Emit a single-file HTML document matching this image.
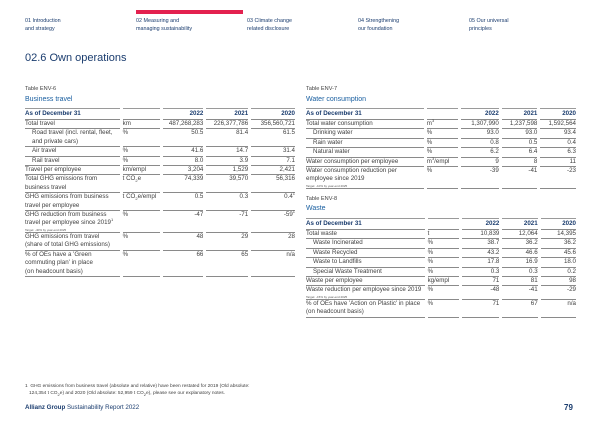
<!DOCTYPE html>
<html><head><meta charset="utf-8"><style>
*{margin:0;padding:0;box-sizing:border-box}
body{width:600px;height:424px;background:#fff;font-family:"Liberation Sans",sans-serif;color:#414141;position:relative;overflow:hidden}
.a{position:absolute;white-space:nowrap}
.nav{font-size:5.4px;line-height:8px;color:#1a3c6e}
table{position:absolute;border-collapse:separate;border-spacing:3px 0;font-size:6.2px;line-height:8.4px}
td,th{border-bottom:0.8px solid #8a8a8a;vertical-align:top;padding:0;font-weight:normal}
th{border-top:1.6px solid #9a9a9a;color:#1a3c6e;font-weight:bold;line-height:10px}
td.n,th.n{text-align:right}
.i{padding-left:7px}
.t{font-size:3px;line-height:4px;display:block;color:#555}
sup{font-size:4px;line-height:0}
sub{font-size:4px;line-height:0}
</style></head><body>
<div class="a" style="left:136px;top:10px;width:107px;height:3.5px;background:#e3214f"></div>
<div class="a nav" style="left:25px;top:17px">01 Introduction<br>and strategy</div>
<div class="a nav" style="left:136px;top:17px">02 Measuring and<br>managing sustainability</div>
<div class="a nav" style="left:247px;top:17px">03 Climate change<br>related disclosure</div>
<div class="a nav" style="left:358px;top:17px">04 Strengthening<br>our foundation</div>
<div class="a nav" style="left:469px;top:17px">05 Our universal<br>principles</div>
<div class="a" style="left:25px;top:52px;font-size:11px;color:#1a3c6e">02.6 Own operations</div>

<div class="a" style="left:25px;top:86px;font-size:5.6px">Table ENV-6</div>
<div class="a" style="left:25px;top:96px;font-size:7px;color:#1a5fa0">Business travel</div>
<table style="left:22px;top:108px;width:276px">
<colgroup><col style="width:96px"><col style="width:38px"><col style="width:40px"><col style="width:42px"><col style="width:44px"></colgroup>
<tr><th style="text-align:left">As of December 31</th><th></th><th class="n">2022</th><th class="n">2021</th><th class="n">2020</th></tr>
<tr><td>Total travel</td><td>km</td><td class="n">487,268,283</td><td class="n">226,377,786</td><td class="n">356,560,721</td></tr>
<tr><td class="i">Road travel (incl. rental, fleet,<br>and private cars)</td><td>%</td><td class="n">50.5</td><td class="n">81.4</td><td class="n">61.5</td></tr>
<tr><td class="i">Air travel</td><td>%</td><td class="n">41.6</td><td class="n">14.7</td><td class="n">31.4</td></tr>
<tr><td class="i">Rail travel</td><td>%</td><td class="n">8.0</td><td class="n">3.9</td><td class="n">7.1</td></tr>
<tr><td>Travel per employee</td><td>km/empl</td><td class="n">3,204</td><td class="n">1,529</td><td class="n">2,421</td></tr>
<tr><td>Total GHG emissions from<br>business travel</td><td>t CO<sub>2</sub>e</td><td class="n">74,339</td><td class="n">39,570</td><td class="n">56,316</td></tr>
<tr><td>GHG emissions from business<br>travel per employee</td><td>t CO<sub>2</sub>e/empl</td><td class="n">0.5</td><td class="n">0.3</td><td class="n">0.4<sup>1</sup></td></tr>
<tr><td>GHG reduction from business<br>travel per employee since 2019<sup>1</sup><span class="t">Target: -40% by year-end 2025</span></td><td>%</td><td class="n">-47</td><td class="n">-71</td><td class="n">-59<sup>1</sup></td></tr>
<tr><td>GHG emissions from travel<br>(share of total GHG emissions)</td><td>%</td><td class="n">48</td><td class="n">29</td><td class="n">28</td></tr>
<tr><td>% of OEs have a 'Green<br>commuting plan' in place<br>(on headcount basis)</td><td>%</td><td class="n">66</td><td class="n">65</td><td class="n">n/a</td></tr>
</table>

<div class="a" style="left:306px;top:86px;font-size:5.6px">Table ENV-7</div>
<div class="a" style="left:306px;top:96px;font-size:7px;color:#1a5fa0">Water consumption</div>
<table style="left:303px;top:108px;width:276px">
<colgroup><col style="width:122px"><col style="width:32px"><col style="width:38px"><col style="width:36px"><col style="width:36px"></colgroup>
<tr><th style="text-align:left">As of December 31</th><th></th><th class="n">2022</th><th class="n">2021</th><th class="n">2020</th></tr>
<tr><td>Total water consumption</td><td>m<sup>3</sup></td><td class="n">1,307,990</td><td class="n">1,237,598</td><td class="n">1,592,564</td></tr>
<tr><td class="i">Drinking water</td><td>%</td><td class="n">93.0</td><td class="n">93.0</td><td class="n">93.4</td></tr>
<tr><td class="i">Rain water</td><td>%</td><td class="n">0.8</td><td class="n">0.5</td><td class="n">0.4</td></tr>
<tr><td class="i">Natural water</td><td>%</td><td class="n">6.2</td><td class="n">6.4</td><td class="n">6.3</td></tr>
<tr><td>Water consumption per employee</td><td>m<sup>3</sup>/empl</td><td class="n">9</td><td class="n">8</td><td class="n">11</td></tr>
<tr><td>Water consumption reduction per<br>employee since 2019<span class="t">Target: -10% by year-end 2025</span></td><td>%</td><td class="n">-39</td><td class="n">-41</td><td class="n">-23</td></tr>
</table>

<div class="a" style="left:306px;top:196px;font-size:5.6px">Table ENV-8</div>
<div class="a" style="left:306px;top:205px;font-size:7px;color:#1a5fa0">Waste</div>
<table style="left:303px;top:218px;width:276px">
<colgroup><col style="width:122px"><col style="width:32px"><col style="width:38px"><col style="width:36px"><col style="width:36px"></colgroup>
<tr><th style="text-align:left">As of December 31</th><th></th><th class="n">2022</th><th class="n">2021</th><th class="n">2020</th></tr>
<tr><td>Total waste</td><td>t</td><td class="n">10,839</td><td class="n">12,064</td><td class="n">14,395</td></tr>
<tr><td class="i">Waste Incinerated</td><td>%</td><td class="n">38.7</td><td class="n">36.2</td><td class="n">36.2</td></tr>
<tr><td class="i">Waste Recycled</td><td>%</td><td class="n">43.2</td><td class="n">46.6</td><td class="n">45.6</td></tr>
<tr><td class="i">Waste to Landfills</td><td>%</td><td class="n">17.8</td><td class="n">16.9</td><td class="n">18.0</td></tr>
<tr><td class="i">Special Waste Treatment</td><td>%</td><td class="n">0.3</td><td class="n">0.3</td><td class="n">0.2</td></tr>
<tr><td>Waste per employee</td><td>kg/empl</td><td class="n">71</td><td class="n">81</td><td class="n">98</td></tr>
<tr><td>Waste reduction per employee since 2019<span class="t">Target: -15% by year-end 2025</span></td><td>%</td><td class="n">-48</td><td class="n">-41</td><td class="n">-29</td></tr>
<tr><td>% of OEs have 'Action on Plastic' in place<br>(on headcount basis)</td><td>%</td><td class="n">71</td><td class="n">67</td><td class="n">n/a</td></tr>
</table>

<div class="a" style="left:25px;top:383px;font-size:4.8px;line-height:7px">1&nbsp; GHG emissions from business travel (absolute and relative) have been restated for 2019 (Old absolute:<br>&nbsp;&nbsp;&nbsp;124,354 t CO<sub>2</sub>e) and 2020 (Old absolute: 52,959 t CO<sub>2</sub>e), please see our explanatory notes.</div>
<div class="a" style="left:25px;top:404px;font-size:6.2px;color:#1a3c6e"><b>Allianz Group</b> Sustainability Report 2022</div>
<div class="a" style="left:564px;top:403px;font-size:8px;font-weight:bold;color:#1a3c6e">79</div>
</body></html>
